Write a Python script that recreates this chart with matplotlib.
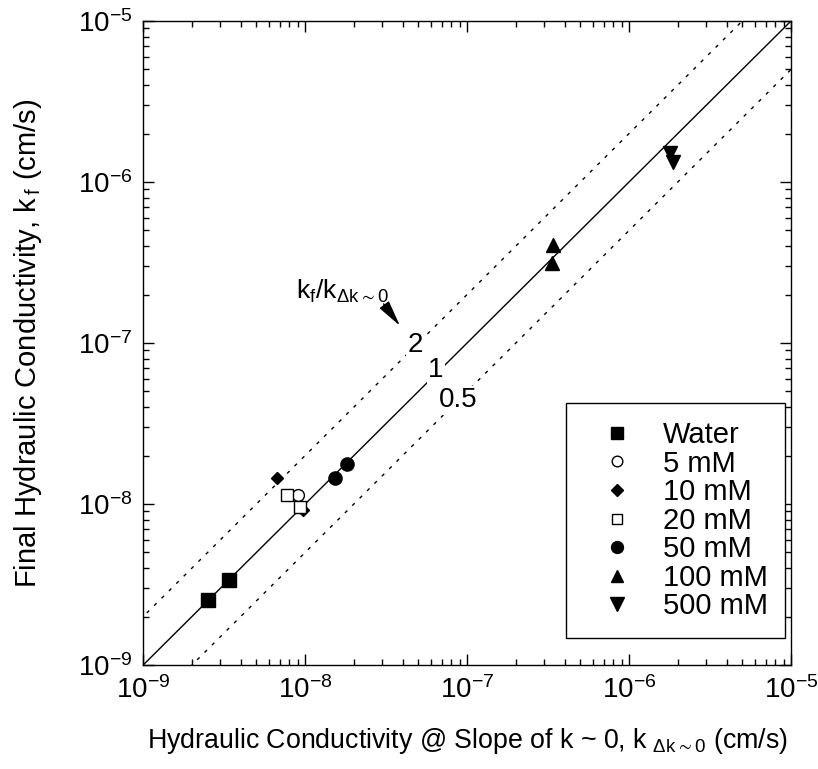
import numpy as np
import matplotlib
matplotlib.use("Agg")
import matplotlib.pyplot as plt
from matplotlib.ticker import FixedLocator, LogFormatterMathtext, NullFormatter

plt.rcParams["font.family"] = ["Liberation Sans", "DejaVu Sans"]
plt.rcParams["mathtext.fontset"] = "custom"
plt.rcParams["mathtext.rm"] = "Liberation Sans"
plt.rcParams["mathtext.default"] = "regular"

# Measured data: (k at slope ~ 0, final k), cm/s
water_x = [2.52e-9, 3.40e-9]
water_y = [2.54e-9, 3.37e-9]
mm5_x = [7.96e-9, 9.06e-9]
mm5_y = [1.14e-8, 1.14e-8]
mm10_x = [6.7e-9, 9.7e-9]
mm10_y = [1.45e-8, 9.2e-9]
mm20_x = [7.7e-9, 9.3e-9]
mm20_y = [1.14e-8, 9.6e-9]
mm50_x = [1.53e-8, 1.82e-8]
mm50_y = [1.45e-8, 1.77e-8]
mm100_x = [3.4e-7, 3.35e-7]
mm100_y = [4.06e-7, 3.14e-7]
mm500_x = [1.79e-6, 1.87e-6]
mm500_y = [1.51e-6, 1.33e-6]

ratios = [2.0, 1.0, 0.5]
ratio_labels = ["2", "1", "0.5"]
decades = [1e-9, 1e-8, 1e-7, 1e-6, 1e-5]

fig = plt.figure(figsize=(8.18, 7.69), dpi=100)
ax = fig.add_axes([0.175, 0.1352, 0.792, 0.8375])

# reference lines k_f = r * k
xl = np.array([1e-10, 1e-4])
dots = (0, (2.5, 5))
for r in ratios:
    ax.plot(xl, r * xl, color="black", lw=1.0, ls="-" if r == 1.0 else dots, zorder=1)

lab_pos = [(4.77e-8, 9.7e-8), (6.44e-8, 6.8e-8), (8.8e-8, 4.4e-8)]
for lab, (px, py) in zip(ratio_labels, lab_pos):
    ax.text(px, py, lab, fontsize=20, ha="center", va="center", zorder=2,
            bbox=dict(facecolor="white", edgecolor="none", pad=1.0))

ax.text(1.7e-8, 2.1e-7, r"k$_{f}$/k$_{\Delta k\sim 0}$", fontsize=19, ha="center", va="center")
ax.annotate("", xy=(3.85e-8, 1.28e-7), xytext=(3.05e-8, 1.75e-7),
            arrowprops=dict(arrowstyle="-|>,head_length=0.9,head_width=0.2", color="black",
                            lw=1.0, mutation_scale=18, shrinkA=0, shrinkB=0))

ms = 9.5
ax.plot(water_x, water_y, "s", color="black", ms=ms, ls="none", label="Water", zorder=3)
ax.plot(mm5_x, mm5_y, "o", mfc="white", mec="black", mew=1.0, ms=8.5, ls="none", label="5 mM", zorder=3)
ax.plot(mm10_x, mm10_y, "D", color="black", ms=6.5, ls="none", label="10 mM", zorder=3)
ax.plot(mm20_x, mm20_y, "s", mfc="white", mec="black", mew=1.0, ms=8.5, ls="none", label="20 mM", zorder=3)
ax.plot(mm50_x, mm50_y, "o", color="black", ms=ms, ls="none", label="50 mM", zorder=3)
ax.plot(mm100_x, mm100_y, "^", color="black", ms=ms, ls="none", label="100 mM", zorder=3)
ax.plot(mm500_x, mm500_y, "v", color="black", ms=10.5, ls="none", label="500 mM", zorder=3)

ax.set_xscale("log")
ax.set_yscale("log")
ax.set_xlim(1e-9, 1e-5)
ax.set_ylim(1e-9, 1e-5)

minors = [m * d for d in decades[:-1] for m in range(2, 10)]
for axis in (ax.xaxis, ax.yaxis):
    axis.set_major_locator(FixedLocator(decades))
    axis.set_minor_locator(FixedLocator(minors))
    axis.set_major_formatter(LogFormatterMathtext())
    axis.set_minor_formatter(NullFormatter())

ax.tick_params(which="both", direction="in", top=True, right=True, width=1.0)
ax.tick_params(which="major", length=8, labelsize=20, pad=8)
ax.tick_params(which="minor", length=4)
for sp in ax.spines.values():
    sp.set_linewidth(1.0)

ax.set_xlabel(r"Hydraulic Conductivity @ Slope of k ~ 0, k$_{\ \Delta k\sim 0}$ (cm/s)", fontsize=19.3, labelpad=16)
ax.set_ylabel(r"Final Hydraulic Conductivity, k$_{\,f}$ (cm/s)", fontsize=21, labelpad=24)

leg = ax.legend(loc="lower right", bbox_to_anchor=(0.991, 0.042), borderaxespad=0,
                fontsize=21, frameon=True, fancybox=False, framealpha=1,
                edgecolor="black", labelspacing=0.02, handlelength=2.3,
                handletextpad=0.4, borderpad=0.6, markerscale=0.9)
leg.get_frame().set_linewidth(1.0)

fig.savefig("out.png", dpi=100)
